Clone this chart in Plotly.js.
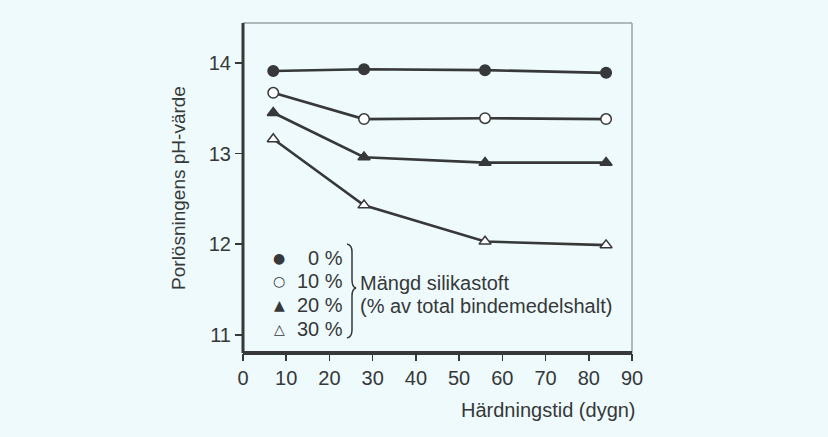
<!DOCTYPE html>
<html><head><meta charset="utf-8">
<script src="https://cdn.plot.ly/plotly-3.0.1.min.js"></script>
<style>html,body{margin:0;padding:0;background:#eefafc;}#chart{width:828px;height:437px;}</style>
</head><body><div id="chart"></div>
<script>
// Data
const days = [7, 28, 56, 84];
const ph0  = [13.91, 13.93, 13.92, 13.89];
const ph10 = [13.67, 13.38, 13.39, 13.38];
const ph20 = [13.45, 12.96, 12.90, 12.90];
const ph30 = [13.16, 12.43, 12.03, 11.99];
const seriesLabels = ['0 %', '10 %', '20 %', '30 %'];
const legendSymbols = ['●', '○', '▲', '△'];
const xTicks = [0, 10, 20, 30, 40, 50, 60, 70, 80, 90];
const yTicks = [11, 12, 13, 14];

const ink = '#363839';
const bg = '#eefafc';
const font = 'Liberation Sans, Arial, sans-serif';

// plot geometry (pixels)
const L = 243, R = 632, T = 23, B = 353, W = 828, H = 437;
const px2x = p => (p - L) / (R - L);
const py2y = p => (B - p) / (B - T);

function tr(y, symbol, open, name) {
  return {x: days, y: y, type: 'scatter', mode: 'lines+markers', name: name,
    line: {color: ink, width: 2.6},
    marker: {symbol: symbol, size: 10.5,
             color: open ? '#ffffff' : ink,
             line: {color: ink, width: 1.5}},
    cliponaxis: false, showlegend: false};
}
const data = [
  tr(ph0, 'circle', false, seriesLabels[0]),
  tr(ph10, 'circle', true, seriesLabels[1]),
  tr(ph20, 'triangle-up', false, seriesLabels[2]),
  tr(ph30, 'triangle-up', true, seriesLabels[3])
];

const fs = 20;
const rows = [258, 281, 305, 329];
const annotations = [];
rows.forEach((py, i) => {
  annotations.push({xref: 'paper', yref: 'paper', x: px2x(279), y: py2y(py), text: legendSymbols[i],
    showarrow: false, xanchor: 'center', yanchor: 'middle', font: {family: 'DejaVu Sans', size: 14, color: ink}});
  annotations.push({xref: 'paper', yref: 'paper', x: px2x(345), y: py2y(py), text: seriesLabels[i],
    showarrow: false, xanchor: 'right', yanchor: 'middle', font: {family: font, size: fs, color: ink}});
});
annotations.push({xref: 'paper', yref: 'paper', x: px2x(358), y: py2y(283), text: 'Mängd silikastoft',
  showarrow: false, xanchor: 'left', yanchor: 'middle', font: {family: font, size: fs, color: ink}});
annotations.push({xref: 'paper', yref: 'paper', x: px2x(358), y: py2y(306), text: '(% av total bindemedelshalt)',
  showarrow: false, xanchor: 'left', yanchor: 'middle', font: {family: font, size: fs, color: ink}});
annotations.push({xref: 'paper', yref: 'paper', x: px2x(638), y: py2y(410), text: 'Härdningstid (dygn)',
  showarrow: false, xanchor: 'right', yanchor: 'middle', font: {family: font, size: fs, color: ink}});

// brace path (pixel coords -> paper)
function P(x, y) { return px2x(x).toFixed(4) + ',' + py2y(y).toFixed(4); }
const brace = 'M' + P(347, 244) + ' Q' + P(352, 245) + ' ' + P(352, 252) +
  ' L' + P(352, 280) + ' Q' + P(352, 287) + ' ' + P(356, 288) +
  ' Q' + P(352, 289) + ' ' + P(352, 296) + ' L' + P(352, 330) +
  ' Q' + P(352, 337) + ' ' + P(347, 338);

const layout = {
  width: W, height: H,
  paper_bgcolor: bg, plot_bgcolor: bg,
  margin: {l: L, r: W - R, t: T, b: H - B, pad: 0},
  showlegend: false,
  font: {family: font, color: ink, size: fs},
  xaxis: {range: [0, 90], tickvals: xTicks, ticktext: xTicks.map(String), ticks: 'outside', ticklen: 7,
    tickwidth: 1.5, tickcolor: ink, showgrid: false, zeroline: false, showline: false,
    tickfont: {family: font, size: fs, color: ink}, fixedrange: true},
  yaxis: {range: [10.80, 14.44], tickvals: yTicks, ticktext: yTicks.map(String), ticks: 'outside', ticklen: 7,
    tickwidth: 1.5, tickcolor: ink, showgrid: false, zeroline: false, showline: false,
    tickfont: {family: font, size: fs, color: ink},
    title: {text: 'Porlösningens pH-värde', font: {family: font, size: 19, color: ink}, standoff: 18},
    fixedrange: true},
  shapes: [
    {type: 'line', xref: 'paper', yref: 'paper', x0: 1, x1: 1, y0: 0, y1: 1, line: {color: '#9aa3a6', width: 1.5}},
    {type: 'line', xref: 'paper', yref: 'paper', x0: 0, x1: 1, y0: 1, y1: 1, line: {color: '#9aa3a6', width: 1.5}},
    {type: 'line', xref: 'paper', yref: 'paper', x0: 0, x1: 0, y0: 0, y1: 1, line: {color: ink, width: 3}},
    {type: 'line', xref: 'paper', yref: 'paper', x0: 0, x1: 1, y0: 0, y1: 0, line: {color: ink, width: 4}},
    {type: 'path', xref: 'paper', yref: 'paper', path: brace, line: {color: ink, width: 1.5}}
  ],
  annotations: annotations
};
Plotly.newPlot('chart', data, layout, {displayModeBar: false, staticPlot: true});
</script></body></html>
